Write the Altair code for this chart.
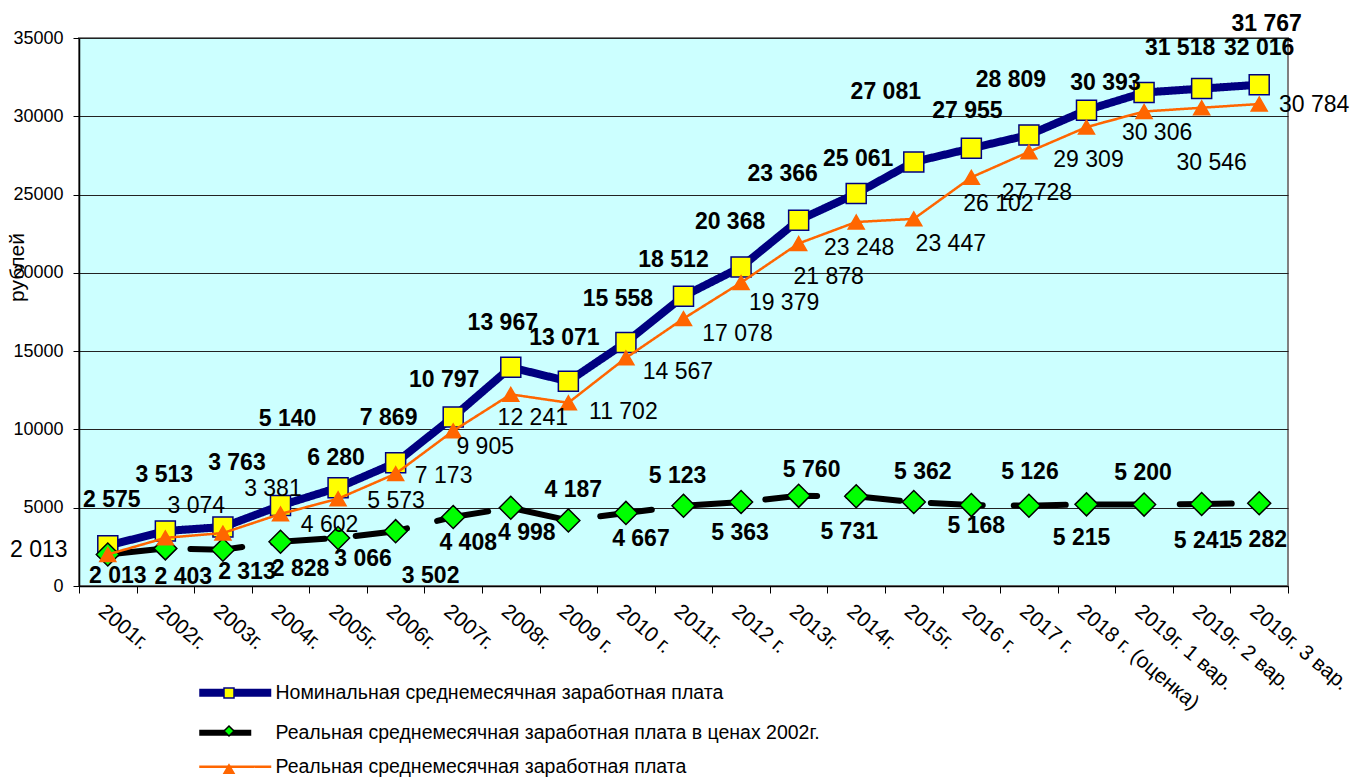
import altair as alt
import pandas as pd

FONT = "Liberation Sans"

CATEGORIES = ["2001г.", "2002г.", "2003г.", "2004г.", "2005г.", "2006г.", "2007г.", "2008г.",
              "2009 г.", "2010 г.", "2011г.", "2012 г.", "2013г.", "2014г.", "2015г.", "2016 г.",
              "2017 г.", "2018 г. (оценка)", "2019г. 1 вар.", "2019г. 2 вар.", "2019г. 3 вар."]
NOMINAL = [2575, 3513, 3763, 5140, 6280, 7869, 10797, 13967, 13071, 15558, 18512, 20368,
           23366, 25061, 27081, 27955, 28809, 30393, 31518, 31767, 32016]
REAL_2002 = [2013, 2403, 2313, 2828, 3066, 3502, 4408, 4998, 4187, 4667, 5123, 5363,
             5760, 5731, 5362, 5168, 5126, 5215, 5200, 5241, 5282]
REAL = [2013, 3074, 3381, 4602, 5573, 7173, 9905, 12241, 11702, 14567, 17078, 19379,
        21878, 23248, 23447, 26102, 27728, 29309, 30306, 30546, 30784]
SERIES = ["Номинальная среднемесячная заработная плата",
          "Реальная среднемесячная заработная плата в ценах 2002г.",
          "Реальная среднемесячная заработная плата"]
# marker-legend keys (same names, kept distinct so the two legends are not merged)
SERIES_M = [s + "\u200b" for s in SERIES]
Y_TICKS = [0, 5000, 10000, 15000, 20000, 25000, 30000, 35000]

# label nudges (pixels) -- styling only
NOM_OFF = [(4, -46), (-1, -56), (14, -64), (7, -87), (-2, -30), (-7, -45), (-9, -37), (-8, -44),
           (-4, -43), (-8, -43), (-10, -36), (-11, -45), (-16, -46), (2, -35), (-28, -70),
           (-4, -37), (-18, -55), (19, -27), (36, -45), (65, -65), (0, -37)]
BLACK_OFF = [(10, 22), (18, 29), (24, 22), (20, 27), (25, 21), (35, 45), (15, 26), (16, 25),
             (5, -30), (15, 26), (-6, -30), (-1, 31), (13, -26), (-7, 36), (9, -30), (5, 21),
             (1, -34), (-5, 34), (-1, -32), (1, 37), (-1, 37)]
REAL_OFF = [(-69, -4), (31, -32), (50, -44), (49, 11), (58, 2), (48, 2), (32, 16), (22, 24),
            (55, 9), (52, 14), (54, 15), (43, 20), (30, 34), (3, 26), (37, 25), (27, 27),
            (8, 41), (2, 33), (13, 22), (10, 55), (55, 1)]

rows = []
for s, sm, vals in zip(SERIES, SERIES_M, [NOMINAL, REAL_2002, REAL]):
    for i, (c, v) in enumerate(zip(CATEGORIES, vals)):
        rows.append({"cat": c, "idx": i, "value": v, "series": s, "series_m": sm,
                     "label": f"{v:,}".replace(",", " ")})
df = pd.DataFrame(rows)

x_enc = alt.X("cat:N", scale=alt.Scale(type="band", domain=CATEGORIES, paddingInner=0, paddingOuter=0),
              bandPosition=0.5,
              axis=alt.Axis(title=None, labelAngle=40, tickBand="extent", labelFontSize=21, labelFont=FONT,
                            labelColor="black", labelPadding=7, tickSize=7, tickColor="black",
                            domainColor="black", domainWidth=1.5, labelOverlap=False, labelLimit=0, grid=False))
y_enc = alt.Y("value:Q", scale=alt.Scale(domain=[0, 35000], nice=False),
              axis=alt.Axis(title="рублей", values=Y_TICKS, format="d", grid=True, gridColor="#222222",
                            gridWidth=1, tickSize=6, tickColor="black", domainColor="black", domainWidth=1.5,
                            labelFontSize=18, labelFont=FONT, labelColor="black", labelPadding=10,
                            titleFontSize=21, titleFont=FONT, titleFontWeight="normal", titleColor="black",
                            titleX=-52, titleY=229))

LEG1 = alt.Legend(title=None, orient="none", legendX=146.5, legendY=645, direction="vertical",
                  symbolType="M-8,0L8,0", symbolSize=81, labelFont=FONT, labelFontSize=19.5,
                  labelColor="black", labelLimit=0, labelOffset=30.5, rowPadding=11, padding=0)
LEG2 = alt.Legend(title=None, orient="none", legendX=144, legendY=649, direction="vertical",
                  symbolSize=100, labelExpr="''", labelFontSize=1, labelLimit=0,
                  rowPadding=22, padding=0, symbolStrokeWidth=1.5)

color_enc = alt.Color("series:N", scale=alt.Scale(domain=SERIES, range=["#000080", "#000000", "#FF6600"]), legend=LEG1)
sw_enc = alt.StrokeWidth("series:N", scale=alt.Scale(type="ordinal", domain=SERIES, range=[8, 6, 2.5]), legend=LEG1)
dash_enc = alt.StrokeDash("series:N", scale=alt.Scale(domain=SERIES, range=[[1, 0], [52, 31], [1, 0]]), legend=LEG1)
shape_enc = alt.Shape("series_m:N", scale=alt.Scale(domain=SERIES_M, range=["square", "diamond", "triangle-up"]), legend=LEG2)
fill_enc = alt.Fill("series_m:N", scale=alt.Scale(domain=SERIES_M, range=["#FFFF00", "#00FF00", "#FF6600"]), legend=LEG2)
stroke_enc = alt.Stroke("series_m:N", scale=alt.Scale(domain=SERIES_M, range=["#000080", "#000000", "#FF6600"]), legend=LEG2)

base = alt.Chart(df)
SIZES = [400, 529, 256]
layers = []
for s, size in zip(SERIES, SIZES):
    sub = base.transform_filter(alt.datum.series == s)
    layers.append(sub.mark_line(strokeCap="round", strokeJoin="round").encode(
        x=x_enc, y=y_enc, color=color_enc, strokeWidth=sw_enc, strokeDash=dash_enc))
    layers.append(sub.mark_point(filled=True, size=size, strokeWidth=1.5, opacity=1).encode(
        x=x_enc, y=y_enc, shape=shape_enc, fill=fill_enc, stroke=stroke_enc))

for s, offs, weight in zip(SERIES, [NOM_OFF, BLACK_OFF, REAL_OFF], ["bold", "bold", "normal"]):
    for i, (dx, dy) in enumerate(offs):
        layers.append(base.transform_filter((alt.datum.series == s) & (alt.datum.idx == i)).mark_text(
            dx=dx, dy=dy, font=FONT, fontSize=23, fontWeight=weight, color="black",
            align="center", baseline="middle").encode(x=x_enc, y=y_enc, text="label:N"))

chart = alt.layer(*layers).properties(
    width=1209, height=548,
    autosize=alt.AutoSizeParams(type="none"),
    padding={"left": 71, "top": 30, "right": 62, "bottom": 192},
).configure_view(fill="#CCFFFF", stroke="#808080", strokeWidth=2)

chart.save("out.html", embed_options={"renderer": "svg", "actions": False})
